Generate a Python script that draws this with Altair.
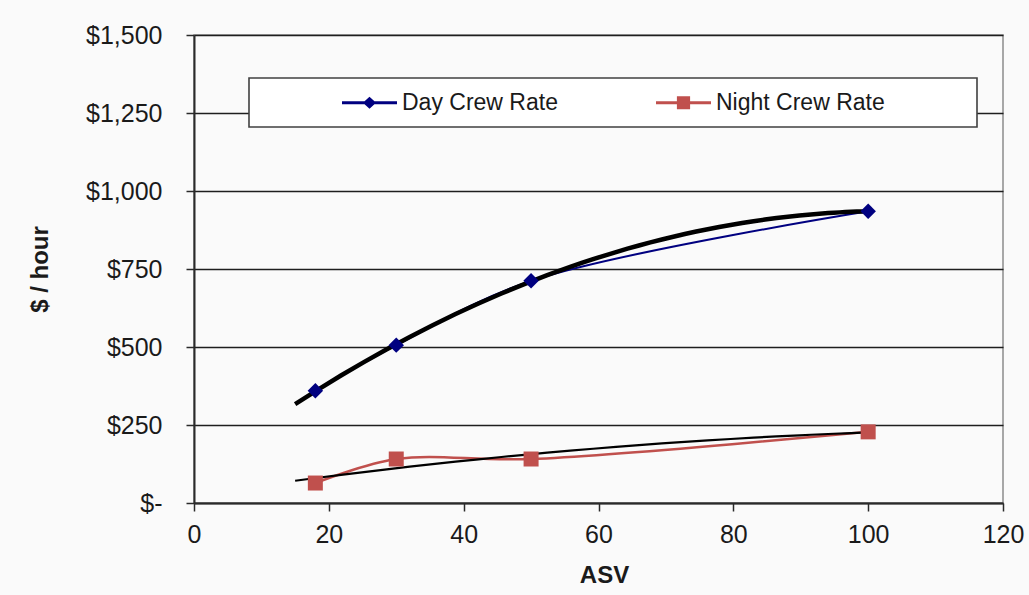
import altair as alt
import pandas as pd

# ASV values at which crew rates were quoted
asv = [18, 30, 50, 100]
day_rate = [360, 506, 712, 935]
night_rate = [64, 141, 141, 228]

series_names = ["Day Crew Rate", "Night Crew Rate"]
series_colors = ["#000080", "#C0504D"]

x_ticks = [0, 20, 40, 60, 80, 100, 120]
y_ticks = [0, 250, 500, 750, 1000, 1250, 1500]

df = pd.DataFrame({
    "asv": asv + asv,
    "rate": day_rate + night_rate,
    "series": [series_names[0]] * len(asv) + [series_names[1]] * len(asv),
})

FONT = "Liberation Sans"
INK = "#1a1a1a"

x_enc = alt.X(
    "asv:Q",
    scale=alt.Scale(domain=[0, 120], nice=False),
    axis=alt.Axis(
        values=x_ticks, grid=False, labelFlush=False,
        domainColor="#2a2a2a", domainWidth=2,
        tickColor="#2a2a2a", tickSize=8, tickWidth=1.5,
        labelFont=FONT, labelFontSize=25, labelColor=INK, labelPadding=11,
        titleFont=FONT, titleFontSize=24, titleFontWeight="bold", titleColor=INK,
        titleX=410, titleY=72, titleBaseline="middle", titleAlign="center",
    ),
    title="ASV",
)
y_enc = alt.Y(
    "rate:Q",
    scale=alt.Scale(domain=[0, 1500], nice=False),
    axis=alt.Axis(
        values=y_ticks, grid=True, gridColor="#1e1e1e", gridWidth=1.3,
        labelExpr="datum.value == 0 ? '$-' : '$' + format(datum.value, ',')",
        labelFlush=False, labelOverlap=False,
        domainColor="#2a2a2a", domainWidth=2,
        tickColor="#2a2a2a", tickSize=8, tickWidth=1.5,
        labelFont=FONT, labelFontSize=25, labelColor=INK, labelPadding=24,
        titleFont=FONT, titleFontSize=24, titleFontWeight="bold", titleColor=INK,
        titleX=-154, titleY=234, titleAngle=270,
        titleBaseline="middle", titleAlign="center",
    ),
    title="$ / hour",
)

base = alt.Chart(df)
is_day = alt.datum.series == series_names[0]
is_night = alt.datum.series == series_names[1]

# white frame behind the legend entries
legend_box = alt.Chart(pd.DataFrame({"box": [0]})).mark_rect(
    fill="white", stroke="#404040", strokeWidth=1.6
).encode(x=alt.value(55), x2=alt.value(783), y=alt.value(43), y2=alt.value(92))

day_line = base.transform_filter(is_day).mark_line(
    color=series_colors[0], strokeWidth=2, interpolate="catmull-rom"
).encode(x=x_enc, y=y_enc)

night_line = base.transform_filter(is_night).mark_line(
    color=series_colors[1], strokeWidth=2.5, interpolate="catmull-rom"
).encode(x=x_enc, y=y_enc)

# second-order polynomial trendlines
day_trend = base.transform_filter(is_day).transform_regression(
    "asv", "rate", method="poly", order=2, extent=[15, 100]
).mark_line(color="black", strokeWidth=4.5).encode(x=x_enc, y=y_enc)

night_trend = base.transform_filter(is_night).transform_regression(
    "asv", "rate", method="poly", order=2, extent=[15, 100]
).mark_line(color="black", strokeWidth=2.2).encode(x=x_enc, y=y_enc)

day_pts = base.transform_filter(is_day).mark_point(
    shape="diamond", filled=True, size=240, color=series_colors[0], opacity=1
).encode(x=x_enc, y=y_enc)

night_pts = base.transform_filter(is_night).mark_point(
    shape="square", filled=True, size=225, color=series_colors[1], opacity=1
).encode(x=x_enc, y=y_enc)

# legend symbols: a short line segment with the series marker on it
day_symbol = ("M-1,-0.055L1,-0.055L1,0.055L-1,0.055Z "
              "M0,-0.22L0.24,0L0,0.22L-0.24,0Z")
night_symbol = ("M-1,-0.055L1,-0.055L1,0.055L-1,0.055Z "
                "M-0.24,-0.24L0.24,-0.24L0.24,0.24L-0.24,0.24Z")

legend_props = dict(
    orient="none", legendX=148, legendY=40, direction="horizontal", title=None,
    labelFont=FONT, labelFontSize=23, labelColor=INK, labelOffset=5, labelLimit=400,
    symbolSize=3025, symbolStrokeWidth=0, columnPadding=98, padding=0,
)

legend_layer = base.transform_filter("false").mark_point(
    filled=True, opacity=1
).encode(
    color=alt.Color("series:N", scale=alt.Scale(domain=series_names, range=series_colors),
                    legend=alt.Legend(**legend_props)),
    shape=alt.Shape("series:N", scale=alt.Scale(domain=series_names, range=[day_symbol, night_symbol]),
                    legend=alt.Legend(**legend_props)),
)

chart = alt.layer(
    legend_box, day_line, night_line, day_trend, night_trend, day_pts, night_pts, legend_layer
).properties(
    width=809, height=468,
    autosize=alt.AutoSizeParams(type="none"),
    padding={"left": 194, "top": 35, "right": 26, "bottom": 92},
    background="#FAFAFA",
).configure_view(
    fill="#C0C0C0", stroke="#8C8C8C", strokeWidth=1.5
)

chart.save("out.html", embed_options={"renderer": "svg", "actions": False})
